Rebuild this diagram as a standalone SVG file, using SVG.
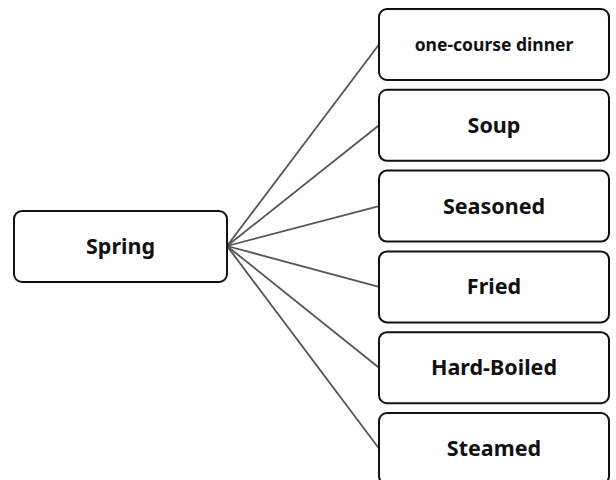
<svg xmlns="http://www.w3.org/2000/svg" width="616" height="480" viewBox="0 0 616 480">
  <style>
    .box { fill: #ffffff; stroke: #111111; stroke-width: 2; }
    .lbl { font-family: "Noto Sans", "Open Sans", "Liberation Sans", sans-serif; font-weight: bold; fill: #111111; text-anchor: middle; dominant-baseline: central; font-size: 21.5px; }
    .small { font-size: 17.5px; }
    .edge { stroke: #555555; stroke-width: 1.8; fill: none; }
  </style>
  <rect width="616" height="480" fill="#ffffff"/>
  <g id="connectors">
    <line class="edge" x1="227" y1="246" x2="379" y2="44.5"/>
    <line class="edge" x1="227" y1="246" x2="379" y2="125.3"/>
    <line class="edge" x1="227" y1="246" x2="379" y2="206.1"/>
    <line class="edge" x1="227" y1="246" x2="379" y2="286.9"/>
    <line class="edge" x1="227" y1="246" x2="379" y2="367.7"/>
    <line class="edge" x1="227" y1="246" x2="379" y2="448.5"/>
  </g>
  <g id="spring">
    <rect class="box" x="14" y="211" width="213" height="71" rx="8"/>
    <text class="lbl" x="120.5" y="245">Spring</text>
  </g>
  <g id="one-course-dinner">
    <rect class="box" x="379" y="9" width="230" height="71" rx="8"/>
    <text class="lbl small" x="494" y="43.5">one-course dinner</text>
  </g>
  <g id="soup">
    <rect class="box" x="379" y="89.8" width="230" height="71" rx="8"/>
    <text class="lbl" x="494" y="124.3">Soup</text>
  </g>
  <g id="seasoned">
    <rect class="box" x="379" y="170.6" width="230" height="71" rx="8"/>
    <text class="lbl" x="494" y="205.1">Seasoned</text>
  </g>
  <g id="fried">
    <rect class="box" x="379" y="251.4" width="230" height="71" rx="8"/>
    <text class="lbl" x="494" y="285.9">Fried</text>
  </g>
  <g id="hard-boiled">
    <rect class="box" x="379" y="332.2" width="230" height="71" rx="8"/>
    <text class="lbl" x="494" y="366.7">Hard-Boiled</text>
  </g>
  <g id="steamed">
    <rect class="box" x="379" y="413" width="230" height="71" rx="8"/>
    <text class="lbl" x="494" y="447.5">Steamed</text>
  </g>
</svg>
